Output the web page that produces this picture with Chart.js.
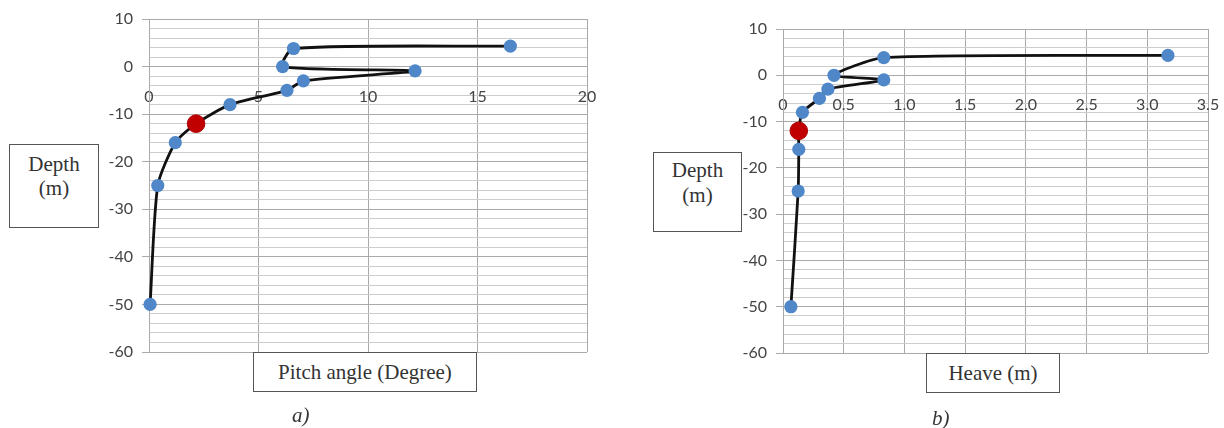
<!DOCTYPE html>
<html>
<head>
<meta charset="utf-8">
<script src="https://cdn.jsdelivr.net/npm/chart.js@4.4.1/dist/chart.umd.min.js"></script>
<style>
  html, body { margin: 0; padding: 0; background: #fff; }
  #wrap { position: relative; width: 1224px; height: 428px; overflow: hidden; }
  .panel { position: absolute; top: 0; width: 612px; height: 428px; }
  .box {
    position: absolute; box-sizing: border-box; background: #fff;
    border: 1px solid #555; color: #333; text-align: center;
    font-family: 'Liberation Serif', 'Times New Roman', serif; font-size: 21px;
    z-index: 2;
  }
  .cap {
    position: absolute; font-family: 'Liberation Serif', 'Times New Roman', serif;
    font-style: italic; font-size: 21px; color: #333; z-index: 2;
  }
</style>
</head>
<body>
<div id="wrap">
  <div class="panel" style="left:0"><canvas id="chart-a"></canvas></div>
  <div class="panel" style="left:612px"><canvas id="chart-b"></canvas></div>

  <div class="box" style="left:9px;top:144px;width:90px;height:84px;line-height:24px;padding-top:7px">Depth<br>(m)</div>
  <div class="box" style="left:253px;top:352px;width:224px;height:40px;line-height:38px">Pitch angle (Degree)</div>
  <div class="cap" style="left:292px;top:403px">a)</div>

  <div class="box" style="left:653px;top:152px;width:89px;height:80px;line-height:25px;padding-top:5px">Depth<br>(m)</div>
  <div class="box" style="left:926px;top:353px;width:134px;height:40px;line-height:38px">Heave (m)</div>
  <div class="cap" style="left:932px;top:406px">b)</div>
</div>

<script>
(function () {
  'use strict';

  // depth (m) of each measured point
  var depth      = [4.3, 3.8, 0, -0.9, -3, -5, -8, -12, -16, -25, -50];
  var pitchAngle = [16.5, 6.6, 6.1, 12.15, 7.05, 6.3, 3.7, 2.15, 1.2, 0.4, 0.05];
  var depthB     = [4.3, 3.8, 0, -1, -3, -5, -8, -12, -16, -25, -50];
  var heave      = [3.17, 0.83, 0.42, 0.83, 0.37, 0.3, 0.16, 0.13, 0.13, 0.125, 0.065];

  // highlighted point (red marker)
  var markPitch = [2.15];
  var markHeave = [0.13];
  var markDepth = [-12];

  var yTicks = [10, 0, -10, -20, -30, -40, -50, -60];

  var TICK_FONT = { family: "Lato, 'Open Sans', sans-serif", size: 16 };
  var TICK_COLOR = '#444444';
  var MAJOR = '#aaaaaa';
  var MINOR = '#cdcdcd';

  function pairs(xs, ys) {
    return xs.map(function (x, i) { return { x: x, y: ys[i] }; });
  }

  function makeChart(id, opts) {
    return new Chart(document.getElementById(id), {
      type: 'scatter',
      data: {
        datasets: [
          {
            data: pairs(opts.markX, markDepth),
            pointRadius: 8.8,
            pointBackgroundColor: '#c00000',
            pointBorderColor: '#b00000',
            pointBorderWidth: 1,
            showLine: false,
            clip: false
          },
          {
            data: pairs(opts.xs, opts.ys),
            showLine: true,
            borderColor: '#111111',
            borderWidth: 2.8,
            tension: 0.22,
            pointRadius: 6.6,
            pointBackgroundColor: '#4f87c8',
            pointBorderColor: '#4f87c8',
            pointBorderWidth: 0,
            clip: false
          }
        ]
      },
      options: {
        responsive: true,
        maintainAspectRatio: false,
        animation: false,
        layout: { padding: opts.padding },
        plugins: { legend: { display: false }, tooltip: { enabled: false } },
        scales: {
          x: {
            type: 'linear',
            position: { y: -5 },
            min: 0,
            max: opts.xMax,
            ticks: { stepSize: opts.xStep, font: TICK_FONT, color: TICK_COLOR, padding: -3, maxRotation: 0 },
            grid: { color: MAJOR, drawTicks: false },
            border: { display: false }
          },
          y: {
            type: 'linear',
            min: -60,
            max: 10,
            afterFit: function (s) { s.width = opts.axisWidth; },
            ticks: {
              stepSize: 2,
              autoSkip: false,
              font: TICK_FONT,
              color: TICK_COLOR,
              padding: 9,
              callback: function (v) { return yTicks.indexOf(v) >= 0 ? String(v) : ''; }
            },
            grid: {
              tickLength: 7,
              color: function (c) { return c.tick && yTicks.indexOf(c.tick.value) >= 0 ? MAJOR : MINOR; },
              tickColor: function (c) { return c.tick && yTicks.indexOf(c.tick.value) >= 0 ? MAJOR : 'rgba(0,0,0,0)'; }
            },
            border: { color: MAJOR }
          }
        }
      }
    });
  }

  makeChart('chart-a', {
    xs: pitchAngle, ys: depth, markX: markPitch,
    xMax: 20, xStep: 5, axisWidth: 149,
    padding: { top: 19, bottom: 76, right: 25, left: 0 }
  });

  makeChart('chart-b', {
    xs: heave, ys: depthB, markX: markHeave,
    xMax: 3.5, xStep: 0.5, axisWidth: 171,
    padding: { top: 29, bottom: 75, right: 16, left: 0 }
  });
})();
</script>
</body>
</html>
